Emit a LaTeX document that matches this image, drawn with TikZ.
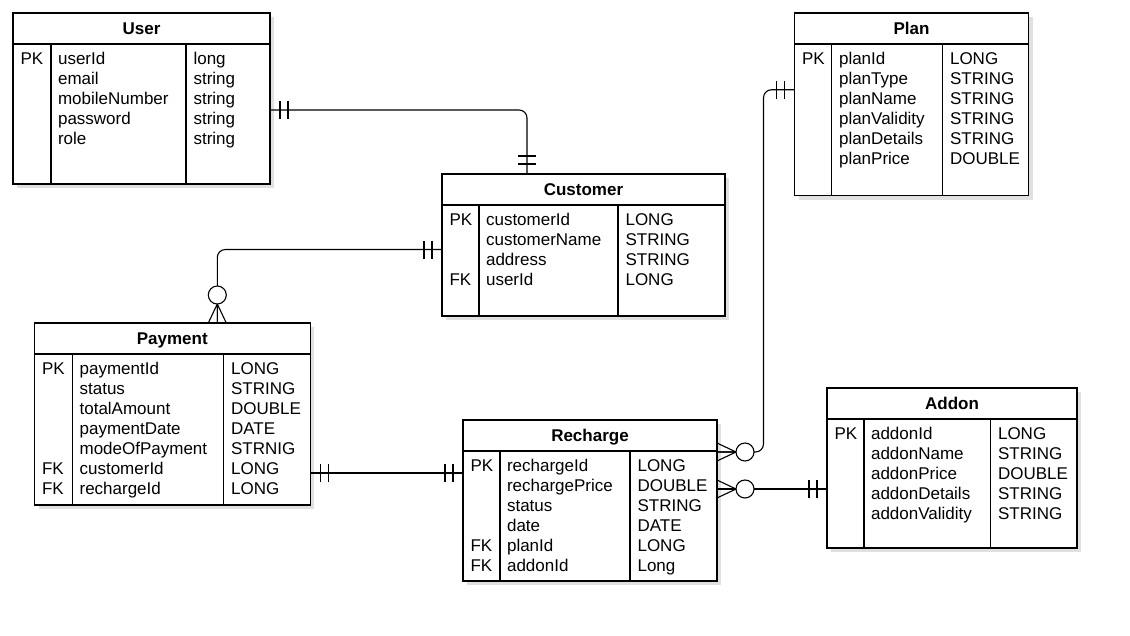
\documentclass[tikz,border=0pt]{standalone}
\usepackage{fontspec}
\setmainfont{Liberation Sans}
\usetikzlibrary{positioning,shadows}
\tikzstyle{entity} = [draw, fill=white, inner sep=0pt, outer sep=0pt, drop shadow={shadow xshift=4pt, shadow yshift=-4pt, opacity=0.12, fill=black}]
\tikzstyle{tname} = [entity, font=\fontsize{17}{20}\selectfont\bfseries, text height=12pt, text depth=0pt, minimum height=31]
\tikzstyle{cols} = [anchor=base west, align=left, inner sep=0pt, font=\fontsize{17}{20}\selectfont]
\tikzset{
  one/.pic={\draw (10,-9) -- (10,9) (18,-9) -- (18,9);},
  zeromany/.pic={\draw (0,9) -- (19,0) -- (0,-9) (0,0) -- (19,0); \draw[fill=white] (28,0) circle (9pt);}
}
\begin{document}
\begin{tikzpicture}[x=1pt, y=1pt, line width=1.1pt]
\useasboundingbox (0,0) rectangle (1130,-635);

% User
\node[tname, minimum width=257] (user) at (141.5,-28.5) {User};
\node[entity, minimum width=257, minimum height=140, below=0pt of user] (userbody) {};
\draw ([xshift=38]userbody.north west) -- ([xshift=38]userbody.south west)
      ([xshift=173]userbody.north west) -- ([xshift=173]userbody.south west);
\node[cols] (userkey) at ([shift={(7,-20)}]userbody.north west) {PK};
\node[cols] (userfield) at ([shift={(44.5,-100)}]userbody.north west) {userId\\email\\mobileNumber\\password\\role};
\node[cols] (usertype) at ([shift={(180,-100)}]userbody.north west) {long\\string\\string\\string\\string};

% Customer
\node[tname, minimum width=283] (customer) at (583.5,-189.5) {Customer};
\node[entity, minimum width=283, minimum height=111, below=0pt of customer] (customerbody) {};
\draw ([xshift=37]customerbody.north west) -- ([xshift=37]customerbody.south west)
      ([xshift=176]customerbody.north west) -- ([xshift=176]customerbody.south west);
\node[cols] (customerkey) at ([shift={(7,-80)}]customerbody.north west) {PK\\{}\\{}\\FK};
\node[cols] (customerfield) at ([shift={(43.5,-80)}]customerbody.north west) {customerId\\customerName\\address\\userId};
\node[cols] (customertype) at ([shift={(183,-80)}]customerbody.north west) {LONG\\STRING\\STRING\\LONG};

% Plan
\node[tname, minimum width=234] (plan) at (911.5,-28.5) {Plan};
\node[entity, minimum width=234, minimum height=151.5, below=0pt of plan] (planbody) {};
\draw ([xshift=37]planbody.north west) -- ([xshift=37]planbody.south west)
      ([xshift=148]planbody.north west) -- ([xshift=148]planbody.south west);
\node[cols] (plankey) at ([shift={(7,-20)}]planbody.north west) {PK};
\node[cols] (planfield) at ([shift={(44,-120)}]planbody.north west) {planId\\planType\\planName\\planValidity\\planDetails\\planPrice};
\node[cols] (plantype) at ([shift={(155,-120)}]planbody.north west) {LONG\\STRING\\STRING\\STRING\\STRING\\DOUBLE};

% Payment
\node[tname, minimum width=275.5] (payment) at (172.3,-338.5) {Payment};
\node[entity, minimum width=275.5, minimum height=151, below=0pt of payment] (paymentbody) {};
\draw ([xshift=38]paymentbody.north west) -- ([xshift=38]paymentbody.south west)
      ([xshift=189]paymentbody.north west) -- ([xshift=189]paymentbody.south west);
\node[cols] (paymentkey) at ([shift={(7,-140)}]paymentbody.north west) {PK\\{}\\{}\\{}\\{}\\FK\\FK};
\node[cols] (paymentfield) at ([shift={(44.5,-140)}]paymentbody.north west) {paymentId\\status\\totalAmount\\paymentDate\\modeOfPayment\\customerId\\rechargeId};
\node[cols] (paymenttype) at ([shift={(196,-140)}]paymentbody.north west) {LONG\\STRING\\DOUBLE\\DATE\\STRNIG\\LONG\\LONG};

% Recharge
\node[tname, minimum width=254] (recharge) at (590,-435.5) {Recharge};
\node[entity, minimum width=254, minimum height=130, below=0pt of recharge] (rechargebody) {};
\draw ([xshift=37]rechargebody.north west) -- ([xshift=37]rechargebody.south west)
      ([xshift=167]rechargebody.north west) -- ([xshift=167]rechargebody.south west);
\node[cols] (rechargekey) at ([shift={(7,-120)}]rechargebody.north west) {PK\\{}\\{}\\{}\\FK\\FK};
\node[cols] (rechargefield) at ([shift={(43.5,-120)}]rechargebody.north west) {rechargeId\\rechargePrice\\status\\date\\planId\\addonId};
\node[cols] (rechargetype) at ([shift={(174,-120)}]rechargebody.north west) {LONG\\DOUBLE\\STRING\\DATE\\LONG\\Long};

% Addon
\node[tname, minimum width=250] (addon) at (952,-403.5) {Addon};
\node[entity, minimum width=250, minimum height=129, below=0pt of addon] (addonbody) {};
\draw ([xshift=37]addonbody.north west) -- ([xshift=37]addonbody.south west)
      ([xshift=163.5]addonbody.north west) -- ([xshift=163.5]addonbody.south west);
\node[cols] (addonkey) at ([shift={(7,-20)}]addonbody.north west) {PK};
\node[cols] (addonfield) at ([shift={(43.5,-100)}]addonbody.north west) {addonId\\addonName\\addonPrice\\addonDetails\\addonValidity};
\node[cols] (addontype) at ([shift={(170.5,-100)}]addonbody.north west) {LONG\\STRING\\DOUBLE\\STRING\\STRING};

% relations
\coordinate (uc1) at ([yshift=4]userbody.east);
\coordinate (uc2) at ([xshift=-56.5]customer.north);
\draw[rounded corners=8] (uc1) -| (uc2);
\pic at (uc1) {one};
\pic[rotate=90] at (uc2) {one};

\coordinate (cp1) at ([yshift=11]customerbody.west);
\coordinate (cp2) at ([xshift=45]payment.north);
\draw[rounded corners=8] (cp1) -| (cp2);
\pic[rotate=180] at (cp1) {one};
\pic[rotate=90] at (cp2) {zeromany};

\coordinate (pr1) at ([yshift=30]planbody.west);
\coordinate (pr2) at ([yshift=64]rechargebody.east);
\draw[rounded corners=8] (pr1) -- ++(-31,0) |- (pr2);
\pic[rotate=180] at (pr1) {one};
\pic at (pr2) {zeromany};

\coordinate (ar1) at ([yshift=-5.5]addonbody.west);
\coordinate (ar2) at ([yshift=27]rechargebody.east);
\draw (ar1) -- (ar2);
\pic[rotate=180] at (ar1) {one};
\pic at (ar2) {zeromany};

\coordinate (rp1) at ([yshift=-43.5]paymentbody.east);
\coordinate (rp2) at ([yshift=43]rechargebody.west);
\draw (rp1) -- (rp2);
\pic at (rp1) {one};
\pic[rotate=180] at (rp2) {one};
\end{tikzpicture}
\end{document}
